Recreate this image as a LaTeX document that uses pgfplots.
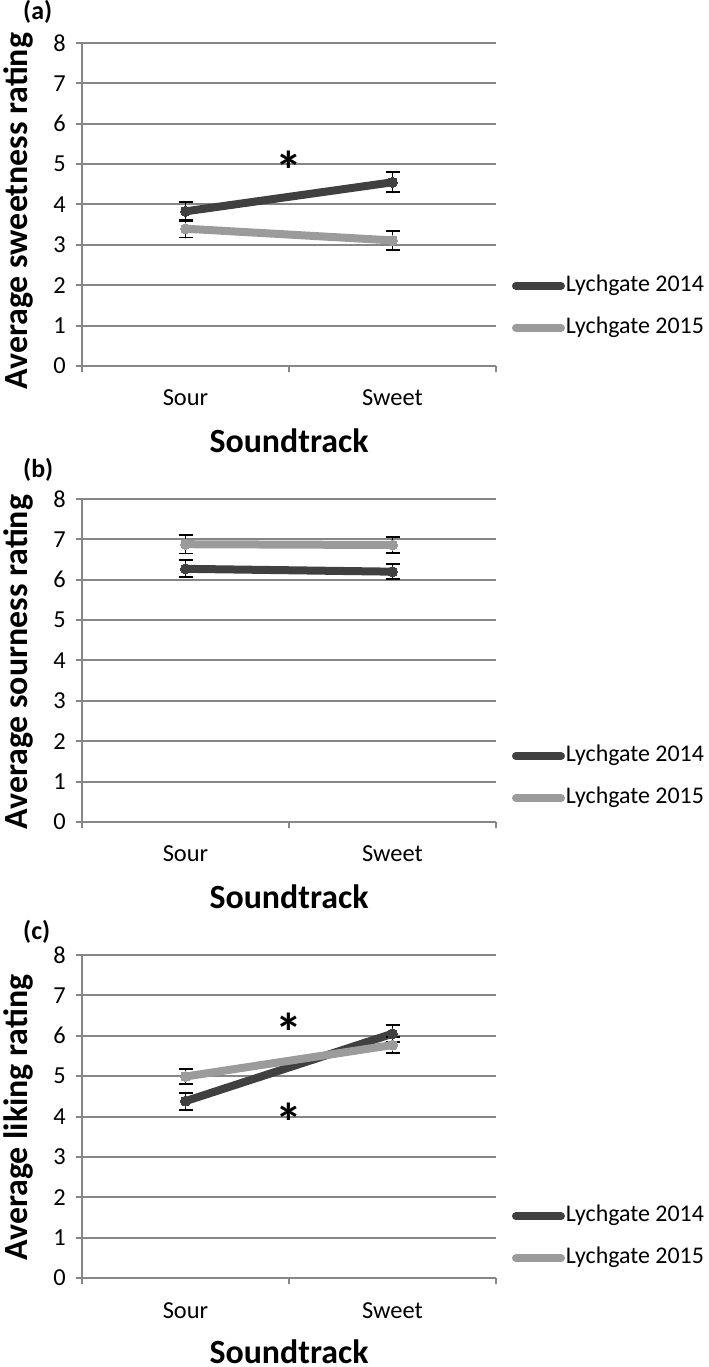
\documentclass[border=0pt]{standalone}
\usepackage{fontspec}
\setmainfont{Carlito}
\usepackage{pgfplots}
\pgfplotsset{compat=1.18}
\definecolor{dark}{HTML}{404040}
\definecolor{light}{HTML}{9B9B9B}
\definecolor{gridc}{HTML}{868686}

\tikzset{sigstar/.style={font=\bfseries\fontsize{54}{58}\selectfont, inner sep=0pt, anchor=base, yshift=-29bp}}

\pgfplotsset{
  panel/.style={
    scale only axis, width=414bp, height=323bp,
    xmin=-0.5, xmax=1.5, ymin=0, ymax=8,
    axis x line*=bottom, axis y line*=left,
    axis line style={draw=gridc, line width=2bp},
    ytick={0,1,...,8}, ymajorgrids, grid style={draw=gridc, line width=2bp},
    xtick={-0.5,0.5,1.5}, xticklabels={},
    extra x ticks={0,1}, extra x tick labels={Sour,Sweet},
    extra x tick style={major tick length=0pt, xmajorgrids=false},
    tick align=outside, major tick length=6bp,
    tick style={draw=gridc, line width=2bp},
    /pgf/number format/assume math mode=true,
    tick label style={font=\fontsize{24.5}{28}\selectfont, inner sep=0pt},
    yticklabel style={anchor=east, xshift=-10bp},
    xticklabel style={anchor=base, yshift=-40bp},
    xlabel={Soundtrack},
    xlabel style={font=\bfseries\fontsize{34}{40}\selectfont, at={(axis description cs:0.5,0)}, anchor=base, yshift=-87bp, inner sep=0pt},
    ylabel style={font=\bfseries\fontsize{34}{40}\selectfont, anchor=north, inner sep=0pt},
    legend image code/.code={\draw[#1, line width=8bp, line cap=round] (4bp,0bp) -- (49bp,0bp);},
    legend cell align=left,
    legend style={draw=none, fill=none, inner sep=0pt, outer sep=0pt, anchor=west,
      font=\fontsize{24}{28}\selectfont, row sep=19bp,
      nodes={inner sep=1bp, text height=16bp, text depth=5bp}},
    clip=false,
  },
  s14/.style={color=dark, line width=8bp, line cap=round, mark=*, mark size=5bp,
    mark options={solid, fill=dark, draw=dark, line width=0bp},
    error bars/.cd, y dir=both, y explicit,
    error bar style={black, line width=1.8bp},
    error mark options={black, rotate=90, mark size=7bp, line width=1.8bp}},
  s15/.style={color=light, line width=8bp, line cap=round, mark=*, mark size=5bp,
    mark options={solid, fill=light, draw=light, line width=0bp},
    error bars/.cd, y dir=both, y explicit,
    error bar style={black, line width=1.8bp},
    error mark options={black, rotate=90, mark size=7bp, line width=1.8bp}},
}

\begin{document}
\begin{tikzpicture}
\useasboundingbox (0,0) rectangle (709bp,1367bp);

\node[anchor=north west, inner sep=0pt, font=\bfseries\fontsize{26}{30}\selectfont] at (23bp,1367bp) {(a)};
\node[anchor=north west, inner sep=0pt, font=\bfseries\fontsize{26}{30}\selectfont] at (23bp,909bp) {(b)};
\node[anchor=north west, inner sep=0pt, font=\bfseries\fontsize{26}{30}\selectfont] at (23bp,447bp) {(c)};

% (a)
\begin{axis}[panel, at={(82bp,1001bp)}, anchor=south west,
  ylabel={Average sweetness rating},
  ylabel style={at={(axis description cs:-0.1908,0.48)}},
  legend style={at={(axis description cs:1.0386,0.183)}}]
\addplot[s14] coordinates {(0,3.83) +- (0,0.23) (1,4.55) +- (0,0.25)};
\addplot[s15] coordinates {(0,3.40) +- (0,0.22) (1,3.11) +- (0,0.24)};
\legend{Lychgate 2014, Lychgate 2015}
\node[sigstar] at (axis cs:0.5,5.1) {*};
\end{axis}

% (b)
\begin{axis}[panel, at={(82bp,545bp)}, anchor=south west,
  ylabel={Average sourness rating},
  ylabel style={at={(axis description cs:-0.1908,0.495)}},
  legend style={at={(axis description cs:1.0386,0.139)}}]
\addplot[s14] coordinates {(0,6.27) +- (0,0.21) (1,6.20) +- (0,0.19)};
\addplot[s15] coordinates {(0,6.88) +- (0,0.23) (1,6.86) +- (0,0.20)};
\legend{Lychgate 2014, Lychgate 2015}
\end{axis}

% (c)
\begin{axis}[panel, at={(82bp,89bp)}, anchor=south west,
  ylabel={Average liking rating},
  ylabel style={at={(axis description cs:-0.1908,0.497)}},
  xlabel style={yshift=2bp},
  legend style={at={(axis description cs:1.0386,0.126)}}]
\addplot[s14] coordinates {(0,4.38) +- (0,0.21) (1,6.05) +- (0,0.21)};
\addplot[s15] coordinates {(0,4.99) +- (0,0.19) (1,5.77) +- (0,0.19)};
\legend{Lychgate 2014, Lychgate 2015}
\node[sigstar] at (axis cs:0.5,6.33) {*};
\node[sigstar] at (axis cs:0.5,4.09) {*};
\end{axis}
\end{tikzpicture}
\end{document}
